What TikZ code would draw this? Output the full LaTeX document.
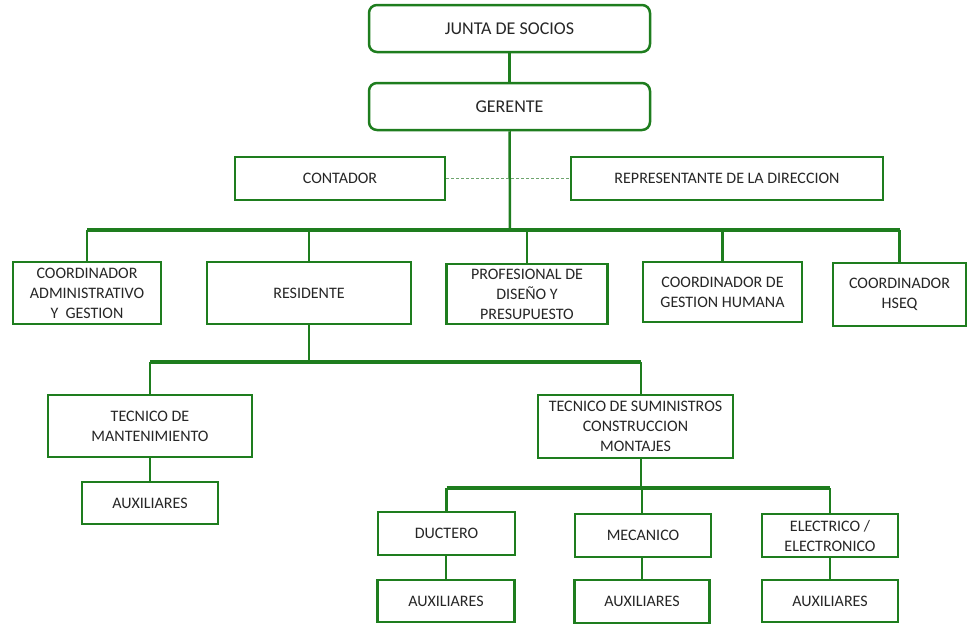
\documentclass[tikz,border=0pt]{standalone}
\usepackage{fontspec}
\setmainfont{Carlito}
\definecolor{grn}{RGB}{30,125,30}
\definecolor{lgrn}{RGB}{110,165,110}
\begin{document}
\begin{tikzpicture}[x=1pt,y=-1pt,
 box/.style={draw=grn, line width=2.5pt, fill=white, inner sep=0pt, align=center,
   font=\fontsize{16}{20}\selectfont, text=black!85},
 rbox/.style={box, rounded corners=8pt, font=\fontsize{18}{20}\selectfont},
 wire/.style={grn, line width=2.5pt},
 bus/.style={grn, line width=3.5pt},
 dotline/.style={lgrn, line width=1pt, dash pattern=on 3pt off 2pt}]
\useasboundingbox (0,0) rectangle (968,624);

% top
\node[rbox, minimum width=281, minimum height=47] (junta) at (509.5,28.5) {JUNTA DE SOCIOS};
\node[rbox, minimum width=281, minimum height=47] (ger) at (509.5,106.5) {GERENTE};
\node[box, minimum width=210, minimum height=43] (cont) at (340,178.5) {CONTADOR};
\node[box, minimum width=312, minimum height=43] (rep) at (727,178.5) {REPRESENTANTE DE LA DIRECCION};

% level 2
\node[box, minimum width=148, minimum height=62] (cadm) at (87,293) {COORDINADOR\\ADMINISTRATIVO\\Y\ \ GESTION};
\node[box, minimum width=204, minimum height=62] (res) at (309,293) {RESIDENTE};
\node[box, minimum width=161, minimum height=60] (prof) at (527,294) {PROFESIONAL DE\\DISEÑO Y\\PRESUPUESTO};
\node[box, minimum width=159, minimum height=60] (cgh) at (722.5,292) {COORDINADOR DE\\GESTION HUMANA};
\node[box, minimum width=133, minimum height=63] (hseq) at (899.5,294.5) {COORDINADOR\\HSEQ};

% level 3
\node[box, minimum width=204, minimum height=62] (tmant) at (150,426) {TECNICO DE\\MANTENIMIENTO};
\node[box, minimum width=136, minimum height=42] (aux1) at (150,503) {AUXILIARES};
\node[box, minimum width=195, minimum height=63] (tsum) at (635.5,426.5) {TECNICO DE SUMINISTROS\\CONSTRUCCION\\MONTAJES};

% level 4
\node[box, minimum width=137, minimum height=43] (duct) at (446.5,533.5) {DUCTERO};
\node[box, minimum width=136, minimum height=43] (mec) at (643,535.5) {MECANICO};
\node[box, minimum width=136, minimum height=43] (elec) at (830,535.5) {ELECTRICO /\\ELECTRONICO};
\node[box, minimum width=137, minimum height=42] (aux2) at (446,601) {AUXILIARES};
\node[box, minimum width=135, minimum height=43] (aux3) at (642,601.5) {AUXILIARES};
\node[box, minimum width=136, minimum height=42] (aux4) at (830,601) {AUXILIARES};

% coordinates
\coordinate (b1) at (510,230);
\coordinate (b2) at (309,362);
\coordinate (b3) at (641,488);

% connectors
\draw[wire] (junta.south) -- (ger.north);
\draw[wire] (ger.south) -- (b1);
\draw[dotline] (cont.east) -- (rep.west);
\draw[bus] (cadm.north |- b1) -- (hseq.north |- b1);
\foreach \n in {cadm,res,prof,cgh,hseq} \draw[wire] (\n.north |- b1) -- (\n.north);

\draw[wire] (res.south) -- (b2);
\draw[bus] (tmant.north |- b2) -- (641,362) coordinate (b2r);
\draw[wire] (tmant.north |- b2) -- (tmant.north);
\draw[wire] (b2r) -- (b2r |- tsum.north);
\draw[wire] (tmant.south) -- (aux1.north);

\draw[wire] (b3 |- tsum.south) -- (b3);
\draw[bus] (duct.north |- b3) -- (elec.north |- b3);
\draw[wire] (duct.north |- b3) -- (duct.north);
\draw[wire] (aux3.north |- b3) -- (aux3.north |- mec.north);
\draw[wire] (elec.north |- b3) -- (elec.north);
\draw[wire] (aux2.north |- duct.south) -- (aux2.north);
\draw[wire] (aux3.north |- mec.south) -- (aux3.north);
\draw[wire] (elec.south) -- (aux4.north);
\end{tikzpicture}
\end{document}
